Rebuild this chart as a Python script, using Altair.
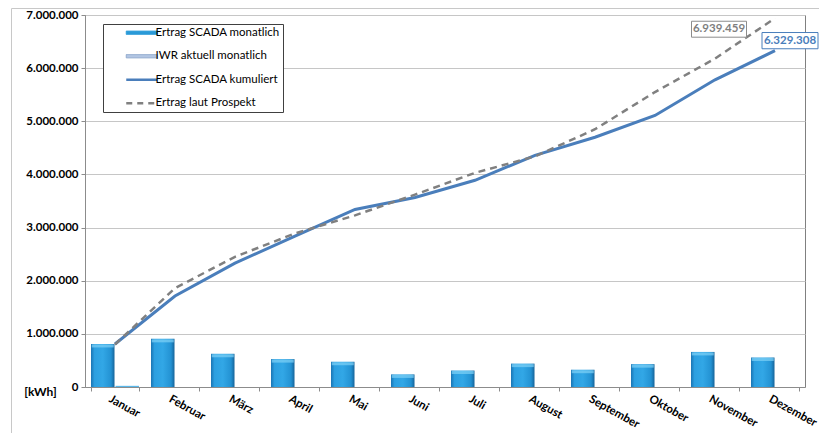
import altair as alt
import pandas as pd

months = ["Januar", "Februar", "März", "April", "Mai", "Juni", "Juli",
          "August", "September", "Oktober", "November", "Dezember"]
scada_monthly = [810000, 906000, 625000, 525000, 475000, 237000, 310000,
                 440000, 325000, 430000, 660000, 555000]
iwr_months = ["Januar"]
iwr_monthly = [22000]
scada_cum = [810000, 1712000, 2330000, 2840000, 3340000, 3565000, 3890000,
             4360000, 4700000, 5110000, 5780000, 6329308]
prospekt_cum = [800000, 1860000, 2450000, 2890000, 3230000, 3620000, 4030000,
                4340000, 4850000, 5550000, 6180000, 6939459]

S_BAR = "Ertrag SCADA monatlich"
S_IWR = "IWR aktuell monatlich"
S_CUM = "Ertrag SCADA kumuliert"
S_PRO = "Ertrag laut Prospekt"
series_names = [S_BAR, S_IWR, S_CUM, S_PRO]
series_colors = ["#2a9ad8", "#8fa8cc", "#4a7ebb", "#808080"]

end_month = ["Dezember"]
end_pro = [6939459]
end_cum = [6329308]


def de_fmt(v):
    return f"{v:,}".replace(",", ".")


FONT = "Lato"

bars_df = pd.DataFrame({"month": months, "series": S_BAR, "value": scada_monthly})
iwr_df = pd.DataFrame({"month": iwr_months, "series": S_IWR, "value": iwr_monthly})
cum_df = pd.DataFrame({"month": months, "series": S_CUM, "value": scada_cum})
pro_df = pd.DataFrame({"month": months, "series": S_PRO, "value": prospekt_cum})
legend_df = pd.DataFrame({"month": [months[0]] * 4, "series": series_names, "value": [0] * 4})
pro_lab = pd.DataFrame({"month": end_month, "value": end_pro,
                        "label": [de_fmt(v) for v in end_pro]})
cum_lab = pd.DataFrame({"month": end_month, "value": end_cum,
                        "label": [de_fmt(v) for v in end_cum]})

x = alt.X(
    "month:N",
    scale=alt.Scale(domain=months, paddingInner=0.2, paddingOuter=0.1),
    axis=alt.Axis(
        title=None, labelAngle=29, labelAlign="left", labelBaseline="top",
        labelFont=FONT, labelFontWeight="bold", labelFontSize=11.5,
        labelColor="#000000", labelPadding=2, labelOffset=-3,
        tickBand="extent", tickSize=4,
        tickColor="#8c8c8c", domainColor="#8c8c8c", grid=False,
        labelOverlap=False,
    ),
)
label_expr = "replace(replace(format(datum.value, ','), ',', '.'), ',', '.')"
y = alt.Y(
    "value:Q",
    scale=alt.Scale(domain=[0, 7000000], nice=False),
    axis=alt.Axis(
        values=[0, 1000000, 2000000, 3000000, 4000000, 5000000, 6000000, 7000000],
        labelExpr=label_expr, title="[kWh]", titleAngle=0, titleX=-45, titleY=376,
        titleAlign="center", titleBaseline="middle", titleFont=FONT,
        titleFontSize=12, titleFontWeight="bold", titleColor="#000000",
        labelFont=FONT, labelFontWeight="bold", labelFontSize=11.5,
        labelColor="#000000", tickSize=4, tickColor="#8c8c8c",
        domainColor="#8c8c8c", gridColor="#c6c6c6", labelPadding=3,
    ),
)
xoff = alt.XOffset("series:N", scale=alt.Scale(domain=[S_BAR, S_IWR], paddingInner=0.04))

bar_gradient = {
    "gradient": "linear", "x1": 0, "x2": 1, "y1": 0, "y2": 0,
    "stops": [
        {"offset": 0, "color": "#1b74b3"},
        {"offset": 0.15, "color": "#2c9fe0"},
        {"offset": 0.5, "color": "#32a7e6"},
        {"offset": 0.85, "color": "#2392d3"},
        {"offset": 1, "color": "#166499"},
    ],
}

is_bar = "(datum.value === 'Ertrag SCADA monatlich' || datum.value === 'IWR aktuell monatlich')"
legend = alt.Legend(
    title=None, orient="none", legendX=18, legendY=9, direction="vertical",
    fillColor="white", strokeColor="#404040", padding=3,
    symbolSize=100, symbolOffset=30, labelOffset=8, rowPadding=10.5,
    labelFont=FONT, labelFontSize=11.5, labelColor="#000000",
    labelExpr="datum.label + '         '",
    symbolOpacity=1,
    symbolType={"expr": is_bar + " ? 'M-3.1,-0.33H3.1V0.33H-3.1Z' : 'M-3.1,0H3.1'"},
    symbolFillColor={"expr": "datum.value === 'Ertrag SCADA monatlich' ? '#2a9ad8' : "
                             "(datum.value === 'IWR aktuell monatlich' ? '#b3c6e3' : 'transparent')"},
    symbolStrokeWidth={"expr": is_bar + " ? 1 : 2.5"},
    symbolDash={"expr": "datum.value === 'Ertrag laut Prospekt' ? [6, 5] : [1, 0]"},
)
color = alt.Color("series:N", scale=alt.Scale(domain=series_names, range=series_colors),
                  legend=legend)

bar_layer = alt.Chart(bars_df).mark_bar(color=bar_gradient).encode(x=x, y=y, xOffset=xoff)
cap_layer = alt.Chart(bars_df).mark_tick(color="#7fd2f6", thickness=3, size=22, yOffset=2).encode(
    x=x, y=y, xOffset=xoff)
iwr_layer = alt.Chart(iwr_df).mark_bar(color="#5ab8ea").encode(x=x, y=y, xOffset=xoff)

cum_line = alt.Chart(cum_df).mark_line(strokeWidth=3, color="#4a7ebb").encode(x=x, y=y)
pro_line = alt.Chart(pro_df).mark_line(strokeWidth=2.5, strokeDash=[7, 5], color="#808080").encode(
    x=x, y=y)
legend_layer = alt.Chart(legend_df).mark_line().encode(x=x, y=y, color=color)

box_path = "M-1,-0.29H1V0.29H-1Z"
pro_box = alt.Chart(pro_lab).mark_point(
    shape=box_path, size=3025, filled=True, fill="white", stroke="#8c8c8c",
    strokeWidth=1, opacity=1, fillOpacity=1, xOffset=-56, yOffset=11,
).encode(x=x, y=y)
pro_text = alt.Chart(pro_lab).mark_text(
    font=FONT, fontWeight="bold", fontSize=11.5, color="#7f7f7f",
    xOffset=-56, yOffset=11, align="center", baseline="middle",
).encode(x=x, y=y, text="label:N")
cum_box = alt.Chart(cum_lab).mark_point(
    shape=box_path, size=3136, filled=True, fill="white", stroke="#4a7ebb",
    strokeWidth=1, opacity=1, fillOpacity=1, xOffset=15, yOffset=-10,
).encode(x=x, y=y)
cum_text = alt.Chart(cum_lab).mark_text(
    font=FONT, fontWeight="bold", fontSize=11.5, color="#4a7ebb",
    xOffset=15, yOffset=-10, align="center", baseline="middle",
).encode(x=x, y=y, text="label:N")

# light outer frame of the chart area (decoration)
frame_left = alt.Chart(legend_df.head(1)).mark_rule(color="#c8c8c8", strokeWidth=1).encode(
    x=alt.value(-73.5), y=alt.value(-6.5), y2=alt.value(420))
frame_top = alt.Chart(legend_df.head(1)).mark_rule(color="#c8c8c8", strokeWidth=1).encode(
    x=alt.value(-73.5), x2=alt.value(740), y=alt.value(-6.5))

chart = alt.layer(
    frame_left, frame_top,
    bar_layer, iwr_layer, cap_layer, cum_line, pro_line, legend_layer,
    pro_box, pro_text, cum_box, cum_text,
).properties(
    width=720, height=372,
    autosize=alt.AutoSizeParams(type="none"),
    padding={"left": 77, "top": 7, "right": 14, "bottom": 46},
).configure_view(stroke="#808080")

chart.save("out.html", embed_options={"renderer": "svg", "actions": False})
